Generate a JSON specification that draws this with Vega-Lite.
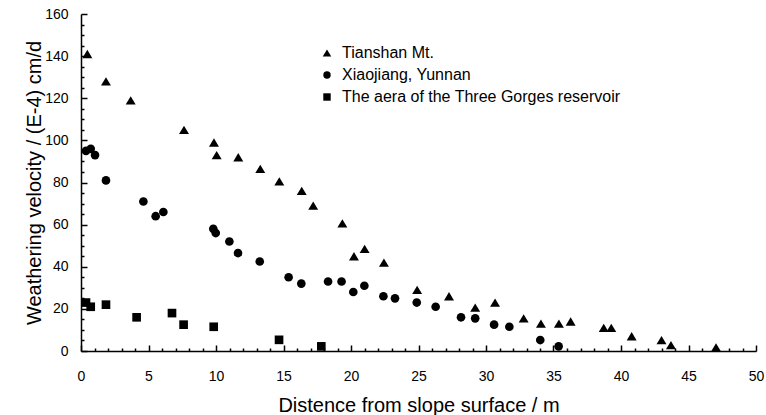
{
  "$schema": "https://vega.github.io/schema/vega-lite/v6.json",
  "width": 675,
  "height": 337,
  "autosize": "none",
  "padding": {"left": 81, "top": 14, "right": 10, "bottom": 64},
  "config": {
    "view": {"strokeOpacity": 0}
  },
  "data": {
    "values": [
      {"x": 0.47, "y": 141, "series": "Tianshan Mt."},
      {"x": 1.85, "y": 128, "series": "Tianshan Mt."},
      {"x": 3.68, "y": 119, "series": "Tianshan Mt."},
      {"x": 7.63, "y": 105, "series": "Tianshan Mt."},
      {"x": 9.85, "y": 99, "series": "Tianshan Mt."},
      {"x": 10.05, "y": 93, "series": "Tianshan Mt."},
      {"x": 11.65, "y": 92, "series": "Tianshan Mt."},
      {"x": 13.28, "y": 86.5, "series": "Tianshan Mt."},
      {"x": 14.69, "y": 80.5, "series": "Tianshan Mt."},
      {"x": 16.35, "y": 76, "series": "Tianshan Mt."},
      {"x": 17.2, "y": 69, "series": "Tianshan Mt."},
      {"x": 19.36, "y": 60.6, "series": "Tianshan Mt."},
      {"x": 20.22, "y": 45, "series": "Tianshan Mt."},
      {"x": 21.01, "y": 48.5, "series": "Tianshan Mt."},
      {"x": 22.44, "y": 42, "series": "Tianshan Mt."},
      {"x": 24.9, "y": 29, "series": "Tianshan Mt."},
      {"x": 27.26, "y": 26, "series": "Tianshan Mt."},
      {"x": 29.2, "y": 20.6, "series": "Tianshan Mt."},
      {"x": 30.67, "y": 23, "series": "Tianshan Mt."},
      {"x": 32.79, "y": 15.5, "series": "Tianshan Mt."},
      {"x": 34.07, "y": 13, "series": "Tianshan Mt."},
      {"x": 35.4, "y": 13, "series": "Tianshan Mt."},
      {"x": 36.27, "y": 14, "series": "Tianshan Mt."},
      {"x": 38.72, "y": 11, "series": "Tianshan Mt."},
      {"x": 39.28, "y": 11, "series": "Tianshan Mt."},
      {"x": 40.79, "y": 7, "series": "Tianshan Mt."},
      {"x": 43.0, "y": 5.2, "series": "Tianshan Mt."},
      {"x": 43.7, "y": 2.8, "series": "Tianshan Mt."},
      {"x": 47.04, "y": 1.7, "series": "Tianshan Mt."},
      {"x": 0.37, "y": 95, "series": "Xiaojiang, Yunnan"},
      {"x": 0.72, "y": 96, "series": "Xiaojiang, Yunnan"},
      {"x": 1.04, "y": 93, "series": "Xiaojiang, Yunnan"},
      {"x": 1.85, "y": 81, "series": "Xiaojiang, Yunnan"},
      {"x": 4.62, "y": 71, "series": "Xiaojiang, Yunnan"},
      {"x": 5.53, "y": 64, "series": "Xiaojiang, Yunnan"},
      {"x": 6.1, "y": 66, "series": "Xiaojiang, Yunnan"},
      {"x": 9.8, "y": 58, "series": "Xiaojiang, Yunnan"},
      {"x": 9.98, "y": 56, "series": "Xiaojiang, Yunnan"},
      {"x": 10.99, "y": 52, "series": "Xiaojiang, Yunnan"},
      {"x": 11.63, "y": 46.5, "series": "Xiaojiang, Yunnan"},
      {"x": 13.24, "y": 42.5, "series": "Xiaojiang, Yunnan"},
      {"x": 15.38, "y": 35, "series": "Xiaojiang, Yunnan"},
      {"x": 16.32, "y": 32, "series": "Xiaojiang, Yunnan"},
      {"x": 18.3, "y": 33, "series": "Xiaojiang, Yunnan"},
      {"x": 19.3, "y": 33, "series": "Xiaojiang, Yunnan"},
      {"x": 20.17, "y": 28, "series": "Xiaojiang, Yunnan"},
      {"x": 20.99, "y": 31, "series": "Xiaojiang, Yunnan"},
      {"x": 22.4, "y": 26, "series": "Xiaojiang, Yunnan"},
      {"x": 23.26, "y": 25, "series": "Xiaojiang, Yunnan"},
      {"x": 24.87, "y": 23, "series": "Xiaojiang, Yunnan"},
      {"x": 26.27, "y": 21, "series": "Xiaojiang, Yunnan"},
      {"x": 28.15, "y": 16, "series": "Xiaojiang, Yunnan"},
      {"x": 29.2, "y": 15.5, "series": "Xiaojiang, Yunnan"},
      {"x": 30.6, "y": 12.5, "series": "Xiaojiang, Yunnan"},
      {"x": 31.73, "y": 11.5, "series": "Xiaojiang, Yunnan"},
      {"x": 34.02, "y": 5.2, "series": "Xiaojiang, Yunnan"},
      {"x": 35.38, "y": 2.2, "series": "Xiaojiang, Yunnan"},
      {"x": 0.37, "y": 23, "series": "The aera of the Three Gorges reservoir"},
      {"x": 0.72, "y": 21, "series": "The aera of the Three Gorges reservoir"},
      {"x": 1.85, "y": 22, "series": "The aera of the Three Gorges reservoir"},
      {"x": 4.12, "y": 16, "series": "The aera of the Three Gorges reservoir"},
      {"x": 6.74, "y": 18, "series": "The aera of the Three Gorges reservoir"},
      {"x": 7.6, "y": 12.5, "series": "The aera of the Three Gorges reservoir"},
      {"x": 9.83, "y": 11.5, "series": "The aera of the Three Gorges reservoir"},
      {"x": 14.67, "y": 5.3, "series": "The aera of the Three Gorges reservoir"},
      {"x": 17.8, "y": 2.2, "series": "The aera of the Three Gorges reservoir"}
    ]
  },
  "mark": {"type": "point", "filled": true, "color": "black", "opacity": 1, "size": 75},
  "encoding": {
    "x": {
      "field": "x", "type": "quantitative",
      "scale": {"domain": [0, 50], "nice": false},
      "axis": {
        "gridOpacity": 0,
        "domainColor": "black",
        "domainWidth": 1.5,
        "tickColor": "black",
        "tickWidth": 1.5,
        "zindex": 1,
        "values": [0,1,2,3,4,5,6,7,8,9,10,11,12,13,14,15,16,17,18,19,20,21,22,23,24,25,26,27,28,29,30,31,32,33,34,35,36,37,38,39,40,41,42,43,44,45,46,47,48,49,50],
        "labelExpr": "datum.value % 5 === 0 ? datum.label : ''",
        "labelOverlap": false,
        "labelFlush": false,
        "tickSize": {"condition": {"test": "datum.value % 5 === 0", "value": -6}, "value": -3},
        "labelPadding": 24,
        "labelFont": "Liberation Sans",
        "labelFontSize": 14,
        "labelColor": "black",
        "title": "Distence from slope surface / m",
        "titleFont": "Liberation Sans",
        "titleFontWeight": "normal",
        "titleColor": "black",
        "titleFontSize": 20,
        "titlePadding": 9
      }
    },
    "y": {
      "field": "y", "type": "quantitative",
      "scale": {"domain": [0, 160], "nice": false},
      "axis": {
        "gridOpacity": 0,
        "domainColor": "black",
        "domainWidth": 1.5,
        "tickColor": "black",
        "tickWidth": 1.5,
        "zindex": 1,
        "values": [0,5,10,15,20,25,30,35,40,45,50,55,60,65,70,75,80,85,90,95,100,105,110,115,120,125,130,135,140,145,150,155,160],
        "labelExpr": "datum.value % 20 === 0 ? datum.label : ''",
        "labelOverlap": false,
        "labelFlush": false,
        "tickSize": {"condition": {"test": "datum.value % 20 === 0", "value": -6}, "value": -3},
        "labelPadding": 19,
        "labelFont": "Liberation Sans",
        "labelFontSize": 14,
        "labelColor": "black",
        "title": "Weathering velocity / (E-4) cm/d",
        "titleFont": "Liberation Sans",
        "titleFontWeight": "normal",
        "titleColor": "black",
        "titleFontSize": 20,
        "titlePadding": 0
      }
    },
    "shape": {
      "field": "series", "type": "nominal",
      "scale": {
        "domain": ["Tianshan Mt.", "Xiaojiang, Yunnan", "The aera of the Three Gorges reservoir"],
        "range": ["M0,-0.96L1.15,0.96L-1.15,0.96Z", "circle", "square"]
      },
      "legend": {
        "title": null,
        "orient": "none",
        "legendX": 238,
        "legendY": 31,
        "labelFont": "Liberation Sans",
        "labelFontSize": 16,
        "labelLimit": 500,
        "labelColor": "black",
        "symbolSize": 55,
        "symbolFillColor": "black",
        "symbolStrokeColor": "black",
        "labelOffset": 7,
        "rowPadding": 6
      }
    }
  }
}
